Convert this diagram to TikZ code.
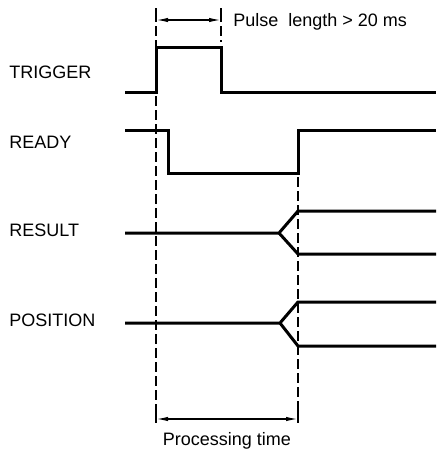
\documentclass[tikz,border=0pt]{standalone}
\usepackage{fontspec}
\setmainfont{Liberation Sans}
\usetikzlibrary{arrows.meta}

\begin{document}
\begin{tikzpicture}[x=0.5pt,y=-0.5pt,
  signal/.style={line width=1.5pt,line join=miter},
  guide/.style={line width=0.6pt,dash pattern=on 5pt off 2pt,dash phase=-2pt},
  tick/.style={line width=0.7pt},
  dim/.style={line width=0.7pt,{Latex[length=6pt,width=2.2pt]}-{Latex[length=6pt,width=2.2pt]}},
  lbl/.style={anchor=base west,inner sep=0pt,font=\fontsize{9}{10}\selectfont}]
  \useasboundingbox (0,0) rectangle (436,450);

  % signal names
  \node[lbl] (trigger) at (9,78) {TRIGGER};
  \node[lbl] (ready) at (9,148) {READY};
  \node[lbl] (result) at (9,236) {RESULT};
  \node[lbl] (position) at (9,326) {POSITION};

  % time marks
  \coordinate (start top) at (156,8);
  \coordinate (start bot) at (156,423);
  \coordinate (pulse top) at (221,8);
  \coordinate (done top) at (298,173);
  \coordinate (done bot) at (298,423);

  \draw[tick] (start top) -- (156,22);
  \draw[tick] (pulse top) -- (221,22);
  \draw[tick] (156,407) -- (start bot);
  \draw[tick] (298,407) -- (done bot);
  \draw[guide] (156,22) -- (156,407);
  \draw[guide] (221,22) -- (221,42);
  \draw[guide] (done top) -- (298,407);

  % dimensions
  \coordinate (pl a) at (156,20);
  \coordinate (pl b) at (221,20);
  \coordinate (pt a) at (156,419);
  \coordinate (pt b) at (298,419);
  \draw[dim] (pl a) -- (pl b);
  \draw[dim] (pt a) -- (pt b);
  \node[lbl] (pulse) at (233,26) {Pulse\ \ length > 20 ms};
  \node[lbl,anchor=base] (proc) at (227,445) {Processing time};

  % waveforms
  \draw[signal] (125,92) -- (156,92) -- (156,47) -- (221,47) -- (221,92) -- (436,92);
  \draw[signal] (125,130) -- (168,130) -- (168,173) -- (298,173) -- (298,130) -- (436,130);
  \draw[signal] (125,233) -- (279,233) -- (298,211) -- (436,211);
  \draw[signal] (279,233) -- (298,254) -- (436,254);
  \draw[signal] (125,323) -- (280,323) -- (298,302) -- (436,302);
  \draw[signal] (280,323) -- (298,346) -- (436,346);
\end{tikzpicture}
\end{document}
